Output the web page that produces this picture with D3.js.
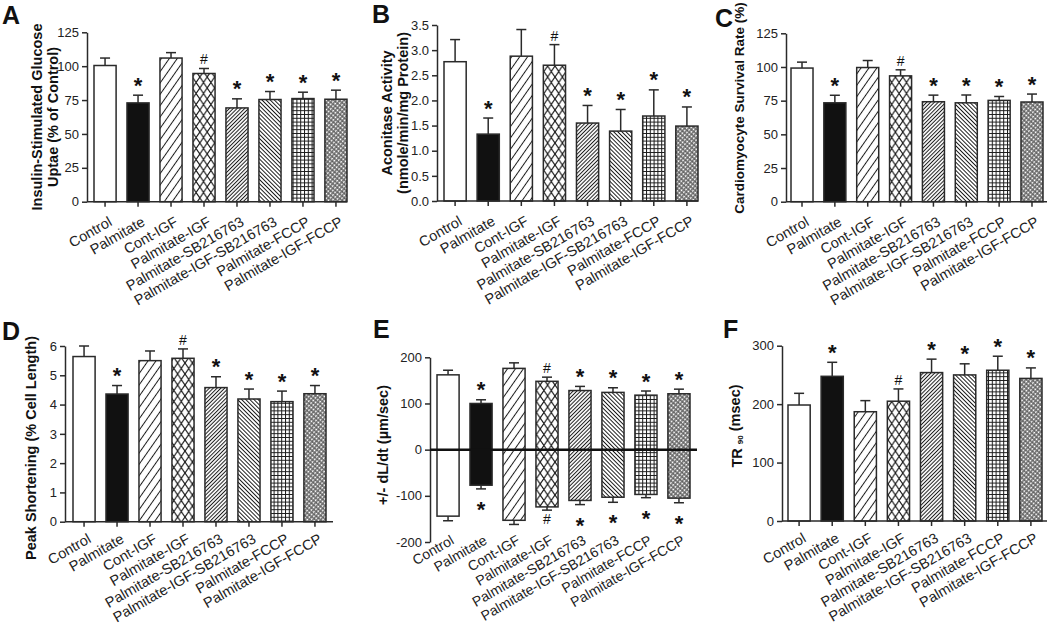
<!DOCTYPE html>
<html><head><meta charset="utf-8">
<script src="https://cdn.jsdelivr.net/npm/d3@7"></script>
<style>
body{margin:0;background:#fff}
svg{display:block}
text{font-family:Arial,"Liberation Sans",Helvetica,sans-serif}
</style>
</head><body>
<script>
const categories = ["Control","Palmitate","Cont-IGF","Palmitate-IGF","Palmitate-SB216763","Palmitate-IGF-SB216763","Palmitate-FCCP","Palmitate-IGF-FCCP"];
const annotations = ["", "*", "", "#", "*", "*", "*", "*"];

const glucoseMean = [100.5, 72.9, 106, 94.6, 69.2, 75.4, 76.1, 75.6];
const glucoseErr  = [5.5, 5.7, 4.0, 3.7, 6.7, 5.9, 4.7, 6.7];

const aconitaseMean = [2.77, 1.33, 2.88, 2.70, 1.55, 1.39, 1.69, 1.49];
const aconitaseErr  = [0.44, 0.32, 0.53, 0.41, 0.35, 0.43, 0.52, 0.38];

const survivalMean = [99.2, 73.4, 99.6, 93.4, 74.2, 73.4, 75.2, 74.0];
const survivalErr  = [4.4, 5.6, 5.2, 4.5, 4.9, 5.8, 2.9, 5.9];

const shorteningMean = [5.64, 4.36, 5.50, 5.58, 4.58, 4.19, 4.10, 4.37];
const shorteningErr  = [0.36, 0.29, 0.33, 0.32, 0.37, 0.34, 0.36, 0.28];

const dldtPos    = [162, 100, 176, 148, 128, 124, 118, 121];
const dldtPosErr = [10, 8, 12, 9, 9, 10, 9, 10];
const dldtNeg    = [-144, -77, -153, -124, -110, -103, -97, -105];
const dldtNegErr = [10, 8, 9, 7, 9, 11, 7, 10];

const tr90Mean = [198.5, 247.6, 187, 205, 254, 250, 258, 244];
const tr90Err  = [20, 24, 19, 21, 23, 19, 24, 18];

const yTicksA = [0, 25, 50, 75, 100, 125];
const yTicksB = [0, 0.5, 1.0, 1.5, 2.0, 2.5, 3.0, 3.5];
const yTicksC = [0, 25, 50, 75, 100, 125];
const yTicksD = [0, 1, 2, 3, 4, 5, 6];
const yTicksE = [-200, -100, 0, 100, 200];
const yTicksF = [0, 100, 200, 300];

const ink = "#2a2a2a";
const FONT = 'Arial,"Liberation Sans",Helvetica,sans-serif';

const svg = d3.select("body").append("svg").attr("width", 1050).attr("height", 626);
svg.append("rect").attr("width", 1050).attr("height", 626).attr("fill", "#fff");
const defs = svg.append("defs");

function pat(id, w, h, rot, d, sw) {
  const p = defs.append("pattern").attr("id", id).attr("patternUnits", "userSpaceOnUse")
    .attr("width", w).attr("height", h);
  if (rot) p.attr("patternTransform", `rotate(${rot})`);
  p.append("rect").attr("width", w).attr("height", h).attr("fill", "#fff");
  p.append("path").attr("d", d).attr("stroke", "#1a1a1a").attr("stroke-width", sw).attr("fill", "none");
}
pat("p2", 6.5, 10, 35, "M3.25,0V10", 1);
pat("p3", 7.4, 11, 0, "M0,0L7.4,11M7.4,0L0,11", 1.2);
pat("p4", 2.7, 10, 45, "M1.35,0V10", 1);
pat("p5", 2.9, 10, -45, "M1.45,0V10", 1);
pat("p6", 3.8, 3.8, 0, "M0.5,0V3.8M0,0.5H3.8", 1);
pat("p7", 3, 3.4, 40, "M0.9,0V3.4M0.9,1.7H3", 1);
const fills = ["#fff", "#111", "url(#p2)", "url(#p3)", "url(#p4)", "url(#p5)", "url(#p6)", "url(#p7)"];

function styleAxis(sel, fs) {
  sel.attr("font-family", FONT).attr("font-size", fs);
  sel.selectAll("line").attr("stroke", ink).attr("stroke-width", 1.5);
  sel.selectAll("path").attr("stroke", ink).attr("stroke-width", 1.5);
  sel.selectAll("text").attr("fill", "#222");
}

function drawPanel(o) {
  const g = svg.append("g");
  const x = d3.scaleBand().domain(categories).range([o.barStart, o.barEnd]).paddingInner(0.33).paddingOuter(0);
  const y = d3.scaleLinear().domain(o.domain).range([o.yBottom, o.yTop]);
  const bw = x.bandwidth();
  const rows = categories.map((c, i) => ({c, i,
    hi: o.pos[i], lo: o.neg ? o.neg[i] : 0,
    eh: o.posErr[i], el: o.negErr ? o.negErr[i] : 0}));

  g.selectAll("rect.bar").data(rows).join("rect").attr("class", "bar")
    .attr("x", d => x(d.c)).attr("width", bw)
    .attr("y", d => y(d.hi)).attr("height", d => y(d.lo) - y(d.hi))
    .attr("fill", d => fills[d.i]).attr("stroke", ink).attr("stroke-width", 1.5);

  const eg = g.append("g").attr("stroke", ink).attr("stroke-width", 1.5);
  rows.forEach(d => {
    const cx = x(d.c) + bw / 2;
    eg.append("line").attr("x1", cx).attr("x2", cx).attr("y1", y(d.hi)).attr("y2", y(d.hi + d.eh));
    eg.append("line").attr("x1", cx - 5).attr("x2", cx + 5).attr("y1", y(d.hi + d.eh)).attr("y2", y(d.hi + d.eh));
    if (o.neg) {
      eg.append("line").attr("x1", cx).attr("x2", cx).attr("y1", y(d.lo)).attr("y2", y(d.lo - d.el));
      eg.append("line").attr("x1", cx - 5).attr("x2", cx + 5).attr("y1", y(d.lo - d.el)).attr("y2", y(d.lo - d.el));
    }
  });

  rows.forEach(d => {
    const a = annotations[d.i];
    if (!a) return;
    const cx = x(d.c) + bw / 2;
    const star = a === "*";
    g.append("text").attr("x", cx).attr("y", y(d.hi + d.eh) - (star ? 2.5 : 4))
      .attr("text-anchor", "middle").attr("font-size", star ? 22 : 14)
      .attr("font-weight", star ? "bold" : "normal").attr("fill", "#111").text(a);
    if (o.neg) {
      g.append("text").attr("x", cx).attr("y", y(d.lo - d.el) + (star ? 28 : 14))
        .attr("text-anchor", "middle").attr("font-size", star ? 22 : 14)
        .attr("font-weight", star ? "bold" : "normal").attr("fill", "#111").text(a);
    }
  });

  const ya = g.append("g").attr("transform", `translate(${o.x0},0)`)
    .call(d3.axisLeft(y).tickValues(o.ticks).tickSize(5).tickSizeOuter(0).tickPadding(3).tickFormat(o.fmt));
  styleAxis(ya, 13);

  const axisY = o.neg ? y(0) : o.yBottom;
  g.append("line").attr("x1", o.x0).attr("x2", o.xEnd).attr("y1", axisY).attr("y2", axisY)
    .attr("stroke", o.neg ? "#111" : ink).attr("stroke-width", o.neg ? 2.5 : 1.5);
  const xa = g.append("g").attr("transform", `translate(0,${axisY})`)
    .call(d3.axisBottom(x).tickSize(o.neg ? 0 : 5).tickSizeOuter(0));
  xa.select(".domain").remove();
  styleAxis(xa, o.neg ? 14 : 14.5);
  const ldy = o.neg ? (o.yBottom - axisY + 1) : (o.labelDy || 21);
  xa.selectAll("text").attr("x", 0).attr("y", 0).attr("dy", 0).attr("text-anchor", "end")
    .attr("transform", `translate(${o.neg ? 7 : 8},${ldy}) rotate(-30)`);

  o.titles.forEach(t => {
    const tx = g.append("text").attr("transform", `translate(${t.x},${t.cy}) rotate(-90)`)
      .attr("text-anchor", "middle").attr("dominant-baseline", "central")
      .attr("font-weight", "bold").attr("font-size", t.fs).attr("fill", "#111");
    if (t.parts) {
      t.parts.forEach(p => {
        const ts = tx.append("tspan").text(p.t);
        if (p.fs) ts.attr("font-size", p.fs);
        if (p.dy) ts.attr("dy", p.dy);
      });
    } else tx.text(t.text);
  });

  g.append("text").attr("x", o.letter.x).attr("y", o.letter.y).attr("font-size", 25)
    .attr("font-weight", "bold").attr("fill", "#111").text(o.letter.t);
}

const intFmt = d => String(d);

drawPanel({x0: 87, xEnd: 347, barStart: 94, barEnd: 347, yTop: 32.3, yBottom: 201.7,
  domain: [0, 125], ticks: yTicksA, fmt: intFmt, pos: glucoseMean, posErr: glucoseErr, labelDy: 23,
  titles: [{x: 37, cy: 117, fs: 14.5, text: "Insulin-Stimulated Glucose"},
           {x: 53, cy: 117, fs: 14.5, text: "Uptae (% of Control)"}],
  letter: {x: 2, y: 24, t: "A"}});

drawPanel({x0: 437, xEnd: 698, barStart: 444, barEnd: 698, yTop: 25, yBottom: 201,
  domain: [0, 3.5], ticks: yTicksB, fmt: d => d.toFixed(1), pos: aconitaseMean, posErr: aconitaseErr, labelDy: 23,
  titles: [{x: 387, cy: 113, fs: 14.5, text: "Aconitase Activity"},
           {x: 403, cy: 113, fs: 14.5, text: "(nmole/min/mg Protein)"}],
  letter: {x: 372, y: 23, t: "B"}});

drawPanel({x0: 786, xEnd: 1047, barStart: 791, barEnd: 1043, yTop: 33.3, yBottom: 201.7,
  domain: [0, 125], ticks: yTicksC, fmt: intFmt, pos: survivalMean, posErr: survivalErr, labelDy: 23,
  titles: [{x: 739, cy: 108, fs: 13.5, text: "Cardiomyocyte Survival Rate (%)"}],
  letter: {x: 715, y: 27, t: "C"}});

drawPanel({x0: 65, xEnd: 333, barStart: 73, barEnd: 326, yTop: 346, yBottom: 521.7,
  domain: [0, 6], ticks: yTicksD, fmt: intFmt, pos: shorteningMean, posErr: shorteningErr, labelDy: 20,
  titles: [{x: 31, cy: 448, fs: 14.5, text: "Peak Shortening (% Cell Length)"}],
  letter: {x: 2, y: 340, t: "D"}});

drawPanel({x0: 430, xEnd: 697, barStart: 437, barEnd: 690, yTop: 357.3, yBottom: 542,
  domain: [-200, 200], ticks: yTicksE, fmt: intFmt, pos: dldtPos, posErr: dldtPosErr,
  neg: dldtNeg, negErr: dldtNegErr,
  titles: [{x: 383, cy: 445, fs: 14.5, text: "+/- dL/dt (µm/sec)"}],
  letter: {x: 373, y: 338, t: "E"}});

drawPanel({x0: 782, xEnd: 1047, barStart: 788, barEnd: 1042, yTop: 345.7, yBottom: 521,
  domain: [0, 300], ticks: yTicksF, fmt: intFmt, pos: tr90Mean, posErr: tr90Err, labelDy: 20,
  titles: [{x: 737, cy: 426, fs: 14.5, parts: [{t: "TR "}, {t: "90", fs: 8, dy: "0.35em"}, {t: "  (msec)", dy: "-0.35em"}]}],
  letter: {x: 723, y: 338, t: "F"}});
</script>
</body></html>
